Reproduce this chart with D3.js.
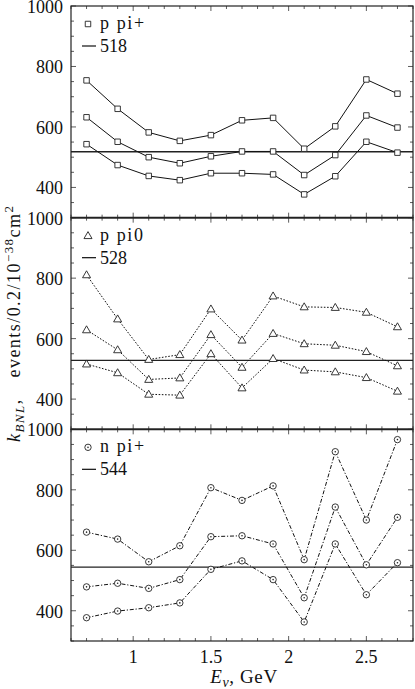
<!DOCTYPE html>
<html>
<head>
<meta charset="utf-8">
<script src="https://cdn.jsdelivr.net/npm/d3@7"></script>
<style>
html,body{margin:0;padding:0;background:#fff;}
svg{display:block;}
</style>
</head>
<body>
<svg id="chart" width="415" height="689"></svg>
<script>
// ---- data ----
const energies = [0.7, 0.9, 1.1, 1.3, 1.5, 1.7, 1.9, 2.1, 2.3, 2.5, 2.7];
const xTickLabels = [1, 1.5, 2, 2.5];
const yTickLabels = [400, 600, 800, 1000];

const panelNames = ["p pi+", "p pi0", "n pi+"];
const refValues = [518, 528, 544];

const ppipUpper = [754, 660, 582, 554, 573, 622, 630, 528, 602, 757, 710];
const ppipMid   = [632, 551, 500, 480, 503, 519, 519, 441, 507, 638, 598];
const ppipLow   = [543, 474, 438, 424, 447, 447, 443, 377, 437, 551, 515];

const ppi0Upper = [811, 665, 531, 547, 698, 595, 741, 705, 703, 687, 639];
const ppi0Mid   = [629, 563, 465, 470, 613, 505, 617, 583, 578, 557, 510];
const ppi0Low   = [516, 487, 416, 413, 550, 437, 534, 496, 490, 471, 426];

const npipUpper = [660, 637, 562, 615, 807, 765, 813, 569, 926, 700, 966];
const npipMid   = [479, 491, 474, 503, 645, 648, 621, 443, 743, 552, 709];
const npipLow   = [377, 399, 410, 426, 537, 565, 503, 363, 621, 453, 559];

const panelSeries = [
  [ppipUpper, ppipMid, ppipLow],
  [ppi0Upper, ppi0Mid, ppi0Low],
  [npipUpper, npipMid, npipLow]
];

// ---- layout ----
const svg = d3.select("#chart");
const plotL = 71, plotR = 413, plotT = 6, plotB = 641;
const panelH = (plotB - plotT) / 3;
const markerTypes = ["square", "triangle", "circle"];
const dashes = [null, "1.6,1.6", "4,1.8,1.2,1.8"];
const FONT = "Liberation Serif";

const x = d3.scaleLinear().domain([0.6, 2.8]).range([plotL, plotR]);

function drawMarker(g, type, cx, cy) {
  if (type === "square") {
    g.append("path").attr("d", d3.symbol().type(d3.symbolSquare).size(30)())
      .attr("transform", `translate(${cx},${cy})`)
      .attr("fill", "#fff").attr("stroke", "#222").attr("stroke-width", 0.9);
  } else if (type === "triangle") {
    g.append("path").attr("d", d3.symbol().type(d3.symbolTriangle).size(28)())
      .attr("transform", `translate(${cx},${cy+0.6})`)
      .attr("fill", "#fff").attr("stroke", "#222").attr("stroke-width", 0.9);
  } else {
    g.append("circle").attr("cx", cx).attr("cy", cy).attr("r", 3.2)
      .attr("fill", "#fff").attr("stroke", "#222").attr("stroke-width", 0.9);
    g.append("circle").attr("cx", cx).attr("cy", cy).attr("r", 0.8).attr("fill", "#222");
  }
}

function txt(sel) {
  return sel.append("text").attr("font-family", FONT).attr("fill", "#111").attr("font-size", 18);
}

panelSeries.forEach((series, p) => {
  const y0 = plotT + p * panelH, y1 = y0 + panelH;
  const y = d3.scaleLinear().domain([300, 1000]).range([y1, y0]);
  const g = svg.append("g");

  const xMinor = d3.range(6, 29).map(v => v / 10);
  xMinor.forEach(v => {
    const major = Math.abs(v * 2 - Math.round(v * 2)) < 1e-6;
    const len = major ? 5 : 3;
    g.append("line").attr("x1", x(v)).attr("x2", x(v)).attr("y1", y1).attr("y2", y1 - len)
      .attr("stroke", "#333").attr("stroke-width", 0.8);
    g.append("line").attr("x1", x(v)).attr("x2", x(v)).attr("y1", y0).attr("y2", y0 + len)
      .attr("stroke", "#333").attr("stroke-width", 0.8);
  });
  d3.range(300, 1001, 50).forEach(v => {
    const major = v % 200 === 0;
    const len = major ? 5 : 3;
    g.append("line").attr("x1", plotL).attr("x2", plotL + len).attr("y1", y(v)).attr("y2", y(v))
      .attr("stroke", "#333").attr("stroke-width", 0.8);
    g.append("line").attr("x1", plotR).attr("x2", plotR - len).attr("y1", y(v)).attr("y2", y(v))
      .attr("stroke", "#333").attr("stroke-width", 0.8);
  });
  yTickLabels.forEach(v => {
    txt(g).attr("x", plotL - 8).attr("y", y(v) + 7)
      .attr("text-anchor", "end").text(v);
  });

  g.append("line").attr("x1", plotL).attr("x2", plotR)
    .attr("y1", y(refValues[p])).attr("y2", y(refValues[p]))
    .attr("stroke", "#222").attr("stroke-width", 1.3);

  const line = d3.line().x((d, i) => x(energies[i])).y(d => y(d));
  series.forEach(vals => {
    const path = g.append("path").attr("d", line(vals))
      .attr("fill", "none").attr("stroke", "#111").attr("stroke-width", 1);
    if (dashes[p]) path.attr("stroke-dasharray", dashes[p]);
    vals.forEach((v, i) => drawMarker(g, markerTypes[p], x(energies[i]), y(v)));
  });

  g.append("rect").attr("x", plotL).attr("y", y0).attr("width", plotR - plotL).attr("height", panelH)
    .attr("fill", "none").attr("stroke", "#222").attr("stroke-width", 1.2);

  drawMarker(g, markerTypes[p], 88, y0 + 18);
  txt(g).attr("x", 100).attr("y", y0 + 23).attr("letter-spacing", 1.6).text(panelNames[p]);
  g.append("line").attr("x1", 82).attr("x2", 96).attr("y1", y0 + 40).attr("y2", y0 + 40)
    .attr("stroke", "#222").attr("stroke-width", 1.3);
  txt(g).attr("x", 100).attr("y", y0 + 46).text(refValues[p]);
});

[1, 2].forEach(k => {
  svg.append("line").attr("x1", plotL).attr("x2", plotR)
    .attr("y1", plotT + k * panelH).attr("y2", plotT + k * panelH)
    .attr("stroke", "#222").attr("stroke-width", 1.8);
});

xTickLabels.forEach(v => {
  txt(svg).attr("x", x(v)).attr("y", plotB + 22)
    .attr("text-anchor", "middle").text(v);
});

const xl = txt(svg).attr("x", 244).attr("y", 683)
  .attr("text-anchor", "middle").attr("font-size", 19).attr("letter-spacing", 0.6);
xl.append("tspan").attr("font-style", "italic").text("E");
xl.append("tspan").attr("font-style", "italic").attr("font-size", 14).attr("dy", 4).text("ν");
xl.append("tspan").attr("dy", -4).text(", GeV");

const yl = txt(svg).attr("transform", `translate(20,324) rotate(-90)`)
  .attr("text-anchor", "middle").attr("textLength", 236).attr("lengthAdjust", "spacing");
yl.append("tspan").attr("font-style", "italic").text("k");
yl.append("tspan").attr("font-style", "italic").attr("font-size", 13).attr("dy", 4).text("BNL");
yl.append("tspan").attr("dy", -4).text(",\u2002\u2002events/0.2/10");
yl.append("tspan").attr("font-size", 13).attr("dy", -7).text("−38");
yl.append("tspan").attr("dy", 7).text("cm");
yl.append("tspan").attr("font-size", 13).attr("dy", -7).text("2");
</script>
</body>
</html>
